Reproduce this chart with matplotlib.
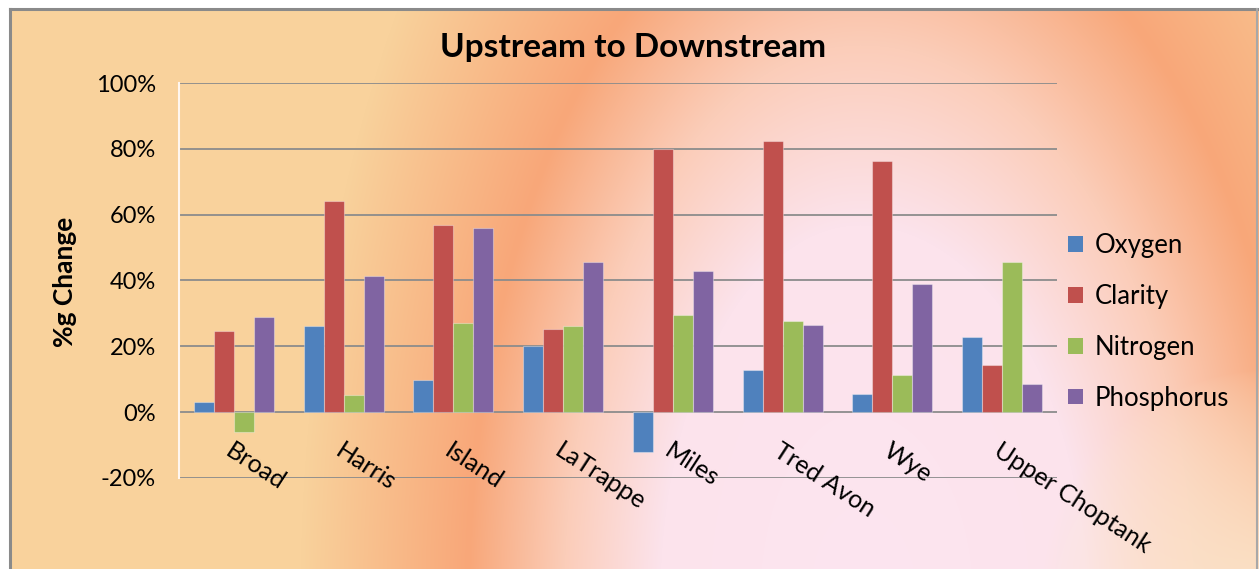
import numpy as np
import matplotlib
matplotlib.use('Agg')
from matplotlib import pyplot as plt
from matplotlib.patches import Patch
from matplotlib import transforms

plt.rcParams['font.family'] = ['Lato', 'DejaVu Sans']

rivers = ['Broad', 'Harris', 'Island', 'LaTrappe', 'Miles', 'Tred Avon', 'Wye', 'Upper Choptank']
series = ['Oxygen', 'Clarity', 'Nitrogen', 'Phosphorus']
oxygen = [3.2, 26.2, 9.7, 20.0, -12.2, 12.8, 5.5, 22.8]
clarity = [24.6, 64.0, 57.0, 25.2, 80.0, 82.3, 76.4, 14.3]
nitrogen = [-6.0, 5.2, 27.0, 26.1, 29.5, 27.7, 11.2, 45.6]
phosphorus = [29.0, 41.3, 56.0, 45.6, 42.9, 26.4, 38.9, 8.5]
colors = ['#4F81BD', '#C0504D', '#9BBB59', '#8064A2']
yticks = [-20, 0, 20, 40, 60, 80, 100]

W, H = 1259, 569
fig = plt.figure(figsize=(W / 100, H / 100), dpi=100)

# background gradient (chart area fill)
def hex2rgb(h):
    return np.array([int(h[i:i + 2], 16) / 255 for i in (1, 3, 5)])

yy, xx = np.mgrid[0:H, 0:W].astype(float)
cx, cy = 860, 600
ax_r = np.where(xx < cx, 400, 450)
r = np.sqrt(((xx - cx) / ax_r) ** 2 + ((yy - cy) / 750) ** 2)
stops = [0.0, 0.5, 0.74, 0.98, 1.4, 3.0]
stop_cols = [hex2rgb(c) for c in ['#FDE5F0', '#FCE3EC', '#FBCDB9', '#F8A779', '#F9D29C', '#F9D39D']]
img = np.zeros((H, W, 3))
for k in range(3):
    img[..., k] = np.interp(r, stops, [c[k] for c in stop_cols])
d = np.sqrt((xx - 1270) ** 2 + (yy - 600) ** 2)
wgt = np.clip(1 - d / 230, 0, 1)[..., None] ** 0.7 * 0.9
img = img * (1 - wgt) + hex2rgb('#FBE9CF') * wgt
img[:, :10] = 1.0
img[:9, :] = 1.0

bg = fig.add_axes([0, 0, 1, 1])
bg.imshow(img, extent=(0, W, H, 0), aspect='auto', interpolation='bilinear')
bg.plot([10, 10], [9, H], color='#8A8A8A', lw=2.2)
bg.plot([10, 1257], [9, 9], color='#8A8A8A', lw=2.2)
bg.plot([1257, 1257], [9, H], color='#A8A8A8', lw=1.5)
bg.set_xlim(0, W)
bg.set_ylim(H, 0)
bg.axis('off')

ax = fig.add_axes([179 / W, (H - 478) / H, 878 / W, 395 / H])
ax.set_facecolor('none')

x = np.arange(len(rivers))
w = 1 / 5.5
for i, (vals, col, name) in enumerate(zip([oxygen, clarity, nitrogen, phosphorus], colors, series)):
    ax.bar(x + (i - 1.5) * w, vals, w, color=col, edgecolor=(1, 1, 1, 0.35), linewidth=0.8,
           label=name, zorder=3)

ax.set_xlim(-0.5, len(rivers) - 0.5)
ax.set_ylim(-20, 100)
ax.set_yticks(yticks)
ax.set_yticklabels([f'{v}%' for v in yticks], fontsize=17)
ax.tick_params(axis='y', length=0, pad=16.5)
ax.set_xticks([])
ax.grid(axis='y', color='#8C8C8C', linewidth=1.3, zorder=0)
for s in ['top', 'right', 'bottom']:
    ax.spines[s].set_visible(False)
ax.spines['left'].set_color('#FFF6EE')
ax.spines['left'].set_linewidth(1.5)

off = transforms.offset_copy(ax.transData, fig=fig, x=0, y=-27, units='dots')
for xi, name in zip(x, rivers):
    ax.text(xi, 0, name, transform=off, rotation=-33, rotation_mode='anchor',
            ha='left', va='top', fontsize=18)

ax.set_ylabel('%g Change', fontsize=19, fontweight='bold')
ax.yaxis.set_label_coords((77 - 179) / 878, 1 - (282 - 83) / 395)

fig.text(633.5 / W, 1 - 48 / H, 'Upstream to Downstream', ha='center', va='center',
         fontsize=24, fontweight='bold')

handles = [Patch(facecolor=c, edgecolor='none') for c in colors]
fig.legend(handles, series, loc='center left', bbox_to_anchor=(1045 / W, 1 - 322 / H),
           frameon=False, fontsize=18.5, handlelength=0.57, handleheight=0.57,
           handletextpad=0.45, labelspacing=1.0)

fig.savefig('out.png', dpi=100)
